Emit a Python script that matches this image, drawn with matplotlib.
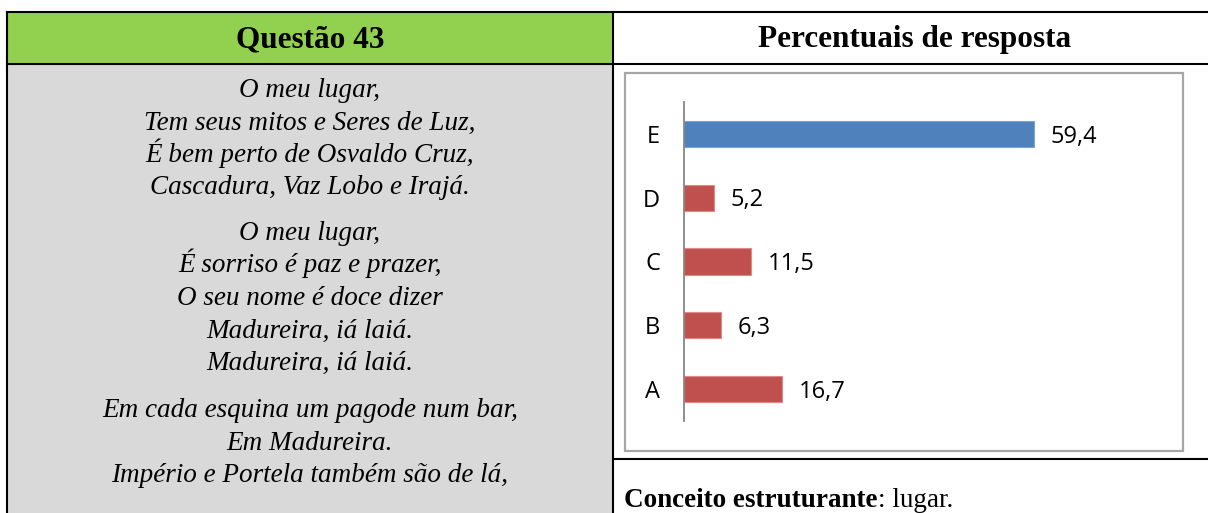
import matplotlib
matplotlib.use('Agg')
import matplotlib.pyplot as plt
from matplotlib.patches import Rectangle

# data
categorias = ['A', 'B', 'C', 'D', 'E']
percentuais = [16.7, 6.3, 11.5, 5.2, 59.4]
correta = 'E'

titulo_esq = 'Questão 43'
titulo_dir = 'Percentuais de resposta'
estrofes = [
    ['O meu lugar,', 'Tem seus mitos e Seres de Luz,',
     'É bem perto de Osvaldo Cruz,', 'Cascadura, Vaz Lobo e Irajá.'],
    ['O meu lugar,', 'É sorriso é paz e prazer,', 'O seu nome é doce dizer',
     'Madureira, iá laiá.', 'Madureira, iá laiá.'],
    ['Em cada esquina um pagode num bar,', 'Em Madureira.',
     'Império e Portela também são de lá,'],
]
conceito_rot = 'Conceito estruturante'
conceito_val = ': lugar.'

W, H = 1208, 513
SERIF = 'Liberation Serif'
SANS = 'Open Sans'

fig = plt.figure(figsize=(W / 100, H / 100), dpi=100)
fig.patch.set_facecolor('white')

# pixel-space background axes for the table
bg = fig.add_axes([0, 0, 1, 1])
bg.set_xlim(0, W)
bg.set_ylim(H, 0)
bg.axis('off')

x_l, x_m, x_r = 7, 612.5, W
y_t, y_h, y_c = 12, 63.5, 459

bg.add_patch(Rectangle((x_l, y_t), x_m - x_l, y_h - y_t, fc='#92D050', ec='none'))
bg.add_patch(Rectangle((x_l, y_h), x_m - x_l, H - y_h, fc='#D9D9D9', ec='none'))

lw = 1.5
bg.plot([x_l, x_r], [y_t, y_t], color='black', lw=lw)
bg.plot([x_l, x_r], [y_h, y_h], color='black', lw=lw)
bg.plot([x_m, x_r], [y_c, y_c], color='black', lw=lw)
bg.plot([x_l, x_l], [y_t, H], color='black', lw=lw)
bg.plot([x_m, x_m], [y_t, H], color='black', lw=lw)

bg.text((x_l + x_m) / 2, 47, titulo_esq, ha='center', va='baseline',
        family=SERIF, weight='bold', fontsize=22.5)
bg.text(915, 47, titulo_dir, ha='center', va='baseline',
        family=SERIF, weight='bold', fontsize=22.5)

# poem, one block per stanza
base_y = [97, 240, 417]
passo = 32.5
for y0, estrofe in zip(base_y, estrofes):
    for i, linha in enumerate(estrofe):
        bg.text((x_l + x_m) / 2, y0 + i * passo, linha, ha='center', va='baseline',
                family=SERIF, style='italic', fontsize=19.5)

# conceito
t1 = bg.text(624, 507, conceito_rot, ha='left', va='baseline',
             family=SERIF, weight='bold', fontsize=19.5)
bg.annotate(conceito_val, xy=(1, 0), xycoords=t1, ha='left', va='bottom',
            family=SERIF, fontsize=19.5)

# chart frame
bg.add_patch(Rectangle((625, 73), 558, 378, fc='white', ec='#A6A6A6', lw=1.6))

# bar chart
px0, pxmax, xmax = 683.5, 1096.5, 70
ytop, ybot = 102, 421
ax = fig.add_axes([px0 / W, (H - ybot) / H, (pxmax - px0) / W, (ybot - ytop) / H])
ax.patch.set_alpha(0)
cores = ['#4F81BD' if c == correta else '#C0504D' for c in categorias]
bordas = ['#7FA3D1' if c == correta else '#E08A88' for c in categorias]
ypos = list(range(len(categorias)))
ax.barh(ypos, percentuais, height=0.41, color=cores, edgecolor=bordas, linewidth=0.8)
for y, v in zip(ypos, percentuais):
    ax.annotate(f'{v:.1f}'.replace('.', ','), xy=(v, y), xytext=(12, -2),
                textcoords='offset points', ha='left', va='center',
                family=SANS, fontsize=17)
ax.set_xlim(0, xmax)
ax.set_ylim(-0.5, len(categorias) - 0.5)
ax.set_yticks(ypos)
ax.set_yticklabels(categorias, family=SANS, fontsize=17)
ax.set_xticks([])
ax.tick_params(axis='y', length=0, pad=17)
for s in ['top', 'right', 'bottom']:
    ax.spines[s].set_visible(False)
ax.spines['left'].set_color('#868686')
ax.spines['left'].set_linewidth(1.3)

fig.savefig('out.png', dpi=100)
